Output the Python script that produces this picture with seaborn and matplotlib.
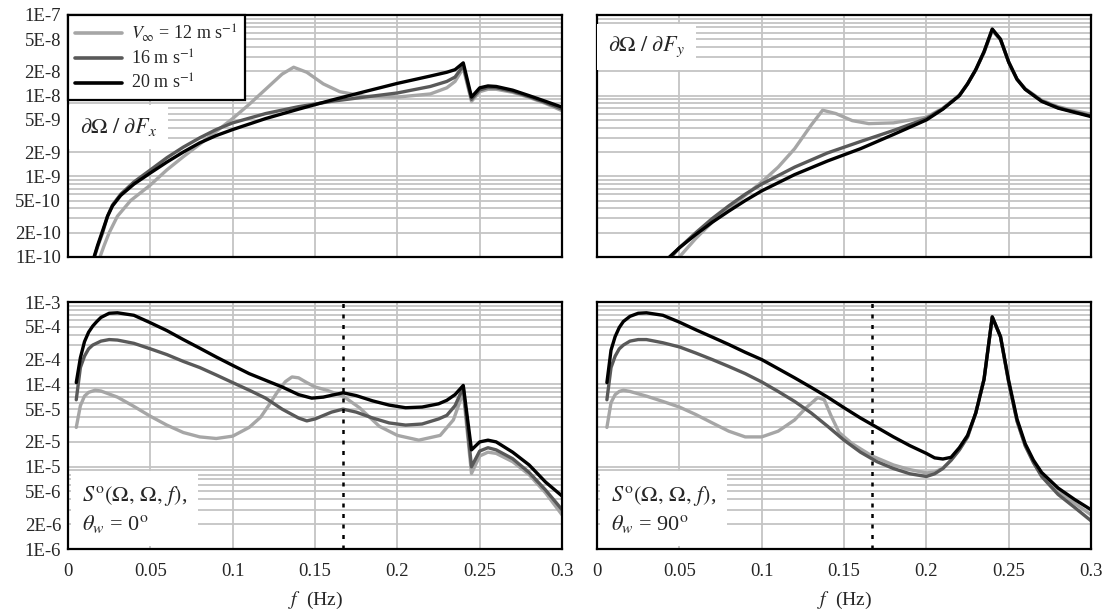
import numpy as np
import pandas as pd
import matplotlib
matplotlib.use('Agg')
import matplotlib.pyplot as plt
import matplotlib.ticker as mticker
import seaborn as sns

# ---- datos ----
speeds = ['12', '16', '20']
line_colors = {'12': '#a6a6a6', '16': '#595959', '20': '#000000'}
F_DASH = 0.167

# dOmega / dFx  (panel superior izquierdo)
fx_f_12 = [0.0194, 0.022, 0.025, 0.03, 0.038, 0.05, 0.06, 0.07, 0.08, 0.09, 0.1, 0.11, 0.12, 0.13, 0.137,
           0.145, 0.155, 0.165, 0.18, 0.2, 0.22, 0.23, 0.235, 0.24, 0.245, 0.25, 0.255, 0.26, 0.27, 0.28, 0.29, 0.3]
fx_v_12 = [1e-10, 1.4e-10, 2e-10, 3.2e-10, 5e-10, 7.8e-10, 1.2e-9, 1.75e-9, 2.5e-9, 3.6e-9, 5.2e-9, 7.8e-9,
           1.2e-8, 1.85e-8, 2.25e-8, 1.95e-8, 1.4e-8, 1.12e-8, 9.8e-9, 9.6e-9, 1.05e-8, 1.25e-8, 1.5e-8,
           2.2e-8, 8.5e-9, 1.12e-8, 1.2e-8, 1.2e-8, 1.1e-8, 9.5e-9, 8e-9, 6.5e-9]
fx_f_16 = [0.016, 0.018, 0.021, 0.024, 0.027, 0.032, 0.04, 0.05, 0.06, 0.07, 0.08, 0.09, 0.1, 0.12, 0.14, 0.16,
           0.18, 0.2, 0.22, 0.23, 0.235, 0.24, 0.245, 0.25, 0.255, 0.26, 0.27, 0.28, 0.29, 0.3]
fx_v_16 = [1e-10, 1.35e-10, 2e-10, 3.2e-10, 4.4e-10, 6e-10, 8.5e-10, 1.2e-9, 1.7e-9, 2.3e-9, 3.0e-9, 3.8e-9,
           4.6e-9, 6.0e-9, 7.3e-9, 8.5e-9, 9.6e-9, 1.08e-8, 1.3e-8, 1.5e-8, 1.7e-8, 2.35e-8, 9e-9, 1.18e-8,
           1.26e-8, 1.25e-8, 1.13e-8, 9.7e-9, 8.2e-9, 6.8e-9]
fx_f_20 = [0.0158, 0.018, 0.0206, 0.024, 0.027, 0.032, 0.04, 0.05, 0.06, 0.07, 0.08, 0.09, 0.1, 0.12, 0.14, 0.16,
           0.18, 0.2, 0.22, 0.23, 0.235, 0.24, 0.245, 0.25, 0.255, 0.26, 0.27, 0.28, 0.29, 0.3]
fx_v_20 = [1e-10, 1.4e-10, 2e-10, 3.2e-10, 4.3e-10, 5.8e-10, 8e-10, 1.1e-9, 1.5e-9, 2.0e-9, 2.6e-9, 3.2e-9,
           3.8e-9, 5.2e-9, 6.8e-9, 8.8e-9, 1.12e-8, 1.42e-8, 1.75e-8, 1.95e-8, 2.1e-8, 2.55e-8, 9.6e-9,
           1.25e-8, 1.32e-8, 1.3e-8, 1.17e-8, 1.0e-8, 8.5e-9, 7.2e-9]

# dOmega / dFy  (panel superior derecho)
fy_f_12 = [0.05, 0.06, 0.07, 0.08, 0.09, 0.1, 0.11, 0.12, 0.13, 0.137, 0.145, 0.155, 0.165, 0.18, 0.2, 0.21,
           0.22, 0.225, 0.23, 0.235, 0.24, 0.245, 0.25, 0.255, 0.26, 0.27, 0.28, 0.29, 0.3]
fy_v_12 = [1e-10, 1.7e-10, 2.7e-10, 4.0e-10, 5.8e-10, 8.5e-10, 1.3e-9, 2.2e-9, 4.3e-9, 6.6e-9, 6.0e-9, 4.9e-9,
           4.5e-9, 4.6e-9, 5.4e-9, 7e-9, 1.02e-8, 1.4e-8, 2.1e-8, 3.4e-8, 6.4e-8, 4.9e-8, 2.6e-8, 1.6e-8,
           1.22e-8, 8.8e-9, 7.3e-9, 6.5e-9, 5.9e-9]
fy_f_16 = [0.045, 0.05, 0.06, 0.07, 0.08, 0.09, 0.1, 0.12, 0.14, 0.16, 0.18, 0.2, 0.21, 0.22, 0.225, 0.23,
           0.235, 0.24, 0.245, 0.25, 0.255, 0.26, 0.27, 0.28, 0.29, 0.3]
fy_v_16 = [1e-10, 1.3e-10, 2.0e-10, 3.0e-10, 4.3e-10, 6e-10, 8e-10, 1.3e-9, 1.95e-9, 2.7e-9, 3.7e-9, 5.2e-9,
           6.9e-9, 1.0e-8, 1.4e-8, 2.1e-8, 3.5e-8, 6.6e-8, 5.0e-8, 2.6e-8, 1.6e-8, 1.2e-8, 8.6e-9, 7.1e-9,
           6.3e-9, 5.6e-9]
fy_f_20 = [0.044, 0.05, 0.06, 0.07, 0.08, 0.09, 0.1, 0.12, 0.14, 0.16, 0.18, 0.2, 0.21, 0.22, 0.225, 0.23,
           0.235, 0.24, 0.245, 0.25, 0.255, 0.26, 0.27, 0.28, 0.29, 0.3]
fy_v_20 = [1e-10, 1.3e-10, 1.9e-10, 2.7e-10, 3.7e-10, 5e-10, 6.6e-10, 1.05e-9, 1.55e-9, 2.2e-9, 3.3e-9, 5.0e-9,
           6.8e-9, 1.0e-8, 1.4e-8, 2.1e-8, 3.5e-8, 6.7e-8, 5.0e-8, 2.6e-8, 1.6e-8, 1.2e-8, 8.5e-9, 7e-9,
           6.2e-9, 5.5e-9]

# S(Omega, Omega, f), theta_w = 0  (panel inferior izquierdo)
s0_f_12 = [0.005, 0.0075, 0.01, 0.0125, 0.0165, 0.02, 0.03, 0.04, 0.05, 0.06, 0.07, 0.08, 0.09, 0.1, 0.11,
           0.117, 0.122, 0.127, 0.132, 0.136, 0.14, 0.145, 0.15, 0.157, 0.167, 0.177, 0.189, 0.2, 0.213, 0.226,
           0.234, 0.24, 0.245, 0.25, 0.255, 0.26, 0.27, 0.28, 0.29, 0.3]
s0_v_12 = [3.0e-5, 5.5e-5, 7.2e-5, 8.0e-5, 8.5e-5, 8.3e-5, 7.0e-5, 5.4e-5, 4.1e-5, 3.2e-5, 2.6e-5, 2.3e-5,
           2.2e-5, 2.35e-5, 3.0e-5, 4.0e-5, 5.6e-5, 8.0e-5, 1.08e-4, 1.23e-4, 1.2e-4, 1.05e-4, 9.3e-5, 8.5e-5,
           7.2e-5, 5.2e-5, 3.1e-5, 2.4e-5, 2.1e-5, 2.4e-5, 3.7e-5, 8.0e-5, 8.3e-6, 1.35e-5, 1.5e-5, 1.45e-5,
           1.15e-5, 8.0e-6, 4.8e-6, 2.6e-6]
s0_f_16 = [0.005, 0.0075, 0.01, 0.0125, 0.015, 0.02, 0.025, 0.03, 0.04, 0.05, 0.06, 0.07, 0.08, 0.09, 0.1,
           0.11, 0.12, 0.13, 0.14, 0.145, 0.15, 0.16, 0.167, 0.175, 0.185, 0.195, 0.205, 0.215, 0.225, 0.23,
           0.235, 0.24, 0.245, 0.25, 0.255, 0.26, 0.27, 0.28, 0.29, 0.3]
s0_v_16 = [6.5e-5, 1.6e-4, 2.2e-4, 2.7e-4, 3.0e-4, 3.35e-4, 3.5e-4, 3.45e-4, 3.15e-4, 2.7e-4, 2.3e-4, 1.9e-4,
           1.6e-4, 1.3e-4, 1.05e-4, 8.5e-5, 6.8e-5, 5.0e-5, 3.9e-5, 3.6e-5, 3.8e-5, 4.6e-5, 5.0e-5, 4.6e-5,
           3.9e-5, 3.4e-5, 3.2e-5, 3.3e-5, 3.8e-5, 4.2e-5, 5.5e-5, 9.2e-5, 1.0e-5, 1.55e-5, 1.7e-5, 1.6e-5,
           1.25e-5, 8.5e-6, 5.2e-6, 3.0e-6]
s0_f_20 = [0.005, 0.0075, 0.01, 0.0125, 0.015, 0.0175, 0.02, 0.025, 0.03, 0.04, 0.05, 0.06, 0.07, 0.08, 0.09,
           0.1, 0.11, 0.12, 0.13, 0.14, 0.148, 0.155, 0.167, 0.175, 0.185, 0.195, 0.205, 0.215, 0.225, 0.23,
           0.235, 0.24, 0.245, 0.25, 0.255, 0.26, 0.27, 0.28, 0.29, 0.3]
s0_v_20 = [1.05e-4, 2.1e-4, 3.3e-4, 4.3e-4, 5.1e-4, 5.8e-4, 6.5e-4, 7.3e-4, 7.4e-4, 6.9e-4, 5.6e-4, 4.5e-4,
           3.5e-4, 2.75e-4, 2.15e-4, 1.7e-4, 1.35e-4, 1.12e-4, 9.3e-5, 7.5e-5, 6.8e-5, 7.0e-5, 7.9e-5, 7.3e-5,
           6.3e-5, 5.6e-5, 5.2e-5, 5.3e-5, 5.8e-5, 6.4e-5, 7.5e-5, 9.7e-5, 1.6e-5, 2.0e-5, 2.1e-5, 2.0e-5,
           1.5e-5, 1.05e-5, 6.5e-6, 4.4e-6]

# S(Omega, Omega, f), theta_w = 90  (panel inferior derecho)
s90_f_12 = [0.006, 0.0085, 0.011, 0.0135, 0.016, 0.02, 0.03, 0.04, 0.05, 0.06, 0.07, 0.08, 0.09, 0.1, 0.11,
            0.12, 0.127, 0.134, 0.138, 0.142, 0.147, 0.155, 0.167, 0.18, 0.19, 0.2, 0.205, 0.21, 0.215, 0.22,
            0.225, 0.23, 0.235, 0.24, 0.245, 0.25, 0.255, 0.26, 0.265, 0.27, 0.28, 0.29, 0.3]
s90_v_12 = [3.0e-5, 6.0e-5, 7.5e-5, 8.2e-5, 8.5e-5, 8.2e-5, 7.2e-5, 6.2e-5, 5.3e-5, 4.3e-5, 3.4e-5, 2.7e-5,
            2.3e-5, 2.3e-5, 2.7e-5, 3.7e-5, 5.2e-5, 6.9e-5, 6.5e-5, 4.2e-5, 2.6e-5, 1.9e-5, 1.35e-5, 1.05e-5,
            9.2e-6, 8.4e-6, 8.6e-6, 9.6e-6, 1.2e-5, 1.6e-5, 2.3e-5, 4.5e-5, 1.15e-4, 6.5e-4, 3.8e-4, 1.05e-4,
            3.6e-5, 1.8e-5, 1.15e-5, 8e-6, 5e-6, 3.6e-6, 2.6e-6]
s90_f_16 = [0.006, 0.0085, 0.011, 0.0135, 0.016, 0.02, 0.025, 0.03, 0.04, 0.05, 0.06, 0.07, 0.08, 0.09, 0.1,
            0.11, 0.12, 0.13, 0.14, 0.15, 0.16, 0.17, 0.18, 0.19, 0.2, 0.205, 0.21, 0.215, 0.22, 0.225, 0.23,
            0.235, 0.24, 0.245, 0.25, 0.255, 0.26, 0.265, 0.27, 0.28, 0.29, 0.3]
s90_v_16 = [6.5e-5, 1.6e-4, 2.2e-4, 2.7e-4, 3.0e-4, 3.35e-4, 3.5e-4, 3.5e-4, 3.2e-4, 2.85e-4, 2.4e-4, 2.0e-4,
            1.65e-4, 1.35e-4, 1.07e-4, 8.2e-5, 6.2e-5, 4.5e-5, 3.1e-5, 2.1e-5, 1.5e-5, 1.15e-5, 9.5e-6, 8.2e-6,
            7.6e-6, 8.2e-6, 9.5e-6, 1.2e-5, 1.6e-5, 2.3e-5, 4.5e-5, 1.15e-4, 6.6e-4, 3.8e-4, 1.05e-4, 3.6e-5,
            1.8e-5, 1.12e-5, 7.6e-6, 4.6e-6, 3.2e-6, 2.2e-6]
s90_f_20 = [0.006, 0.0085, 0.011, 0.0135, 0.016, 0.02, 0.025, 0.03, 0.04, 0.05, 0.06, 0.07, 0.08, 0.09, 0.1,
            0.11, 0.12, 0.13, 0.14, 0.15, 0.16, 0.17, 0.18, 0.19, 0.2, 0.205, 0.21, 0.215, 0.22, 0.225, 0.23,
            0.235, 0.24, 0.245, 0.25, 0.255, 0.26, 0.265, 0.27, 0.28, 0.29, 0.3]
s90_v_20 = [1.05e-4, 2.6e-4, 3.8e-4, 4.9e-4, 5.8e-4, 6.7e-4, 7.3e-4, 7.4e-4, 6.9e-4, 5.7e-4, 4.6e-4, 3.75e-4,
            3.05e-4, 2.45e-4, 2.0e-4, 1.55e-4, 1.2e-4, 9.2e-5, 7.0e-5, 5.2e-5, 3.9e-5, 3.0e-5, 2.3e-5, 1.8e-5,
            1.45e-5, 1.28e-5, 1.24e-5, 1.3e-5, 1.7e-5, 2.4e-5, 4.5e-5, 1.15e-4, 6.6e-4, 3.8e-4, 1.1e-4, 3.8e-5,
            1.9e-5, 1.2e-5, 8.5e-6, 5.5e-6, 4.0e-6, 3.0e-6]

x_ticks = [0, 0.05, 0.1, 0.15, 0.2, 0.25, 0.3]
x_tick_labels = ['0', '0.05', '0.1', '0.15', '0.2', '0.25', '0.3']
y_ticks_top = [1e-10, 2e-10, 5e-10, 1e-9, 2e-9, 5e-9, 1e-8, 2e-8, 5e-8, 1e-7]
y_labels_top = ['1E-10', '2E-10', '5E-10', '1E-9', '2E-9', '5E-9', '1E-8', '2E-8', '5E-8', '1E-7']
y_ticks_bot = [1e-6, 2e-6, 5e-6, 1e-5, 2e-5, 5e-5, 1e-4, 2e-4, 5e-4, 1e-3]
y_labels_bot = ['1E-6', '2E-6', '5E-6', '1E-5', '2E-5', '5E-5', '1E-4', '2E-4', '5E-4', '1E-3']


def make_df(series):
    rows = []
    for sp, (f, v) in series.items():
        rows.append(pd.DataFrame({'f': f, 'val': v, 'speed': sp}))
    return pd.concat(rows, ignore_index=True)


panels = [
    (make_df({'12': (fx_f_12, fx_v_12), '16': (fx_f_16, fx_v_16), '20': (fx_f_20, fx_v_20)}),
     (1e-10, 1e-7), y_ticks_top, y_labels_top),
    (make_df({'12': (fy_f_12, fy_v_12), '16': (fy_f_16, fy_v_16), '20': (fy_f_20, fy_v_20)}),
     (1e-10, 1e-7), y_ticks_top, y_labels_top),
    (make_df({'12': (s0_f_12, s0_v_12), '16': (s0_f_16, s0_v_16), '20': (s0_f_20, s0_v_20)}),
     (1e-6, 1e-3), y_ticks_bot, y_labels_bot),
    (make_df({'12': (s90_f_12, s90_v_12), '16': (s90_f_16, s90_v_16), '20': (s90_f_20, s90_v_20)}),
     (1e-6, 1e-3), y_ticks_bot, y_labels_bot),
]

# ---- estilo ----
sns.set_style('white')
plt.rcParams['font.family'] = ['Liberation Serif', 'DejaVu Serif']
plt.rcParams['mathtext.fontset'] = 'stix'

fig, axes = plt.subplots(2, 2, figsize=(11.06, 6.12), dpi=100)
axes = axes.ravel()

pos = [
    [0.0615, 0.5801, 0.4467, 0.3954],
    [0.5398, 0.5801, 0.4467, 0.3954],
    [0.0615, 0.1029, 0.4467, 0.4036],
    [0.5398, 0.1029, 0.4467, 0.4036],
]

for i, ax in enumerate(axes):
    df, ylim, yt, yl = panels[i]
    ax.set_position(pos[i])
    sns.lineplot(data=df, x='f', y='val', hue='speed', palette=line_colors,
                 hue_order=speeds, lw=2.4, ax=ax, legend=False, sort=False)
    ax.set_yscale('log')
    ax.set_xlim(0, 0.3)
    ax.set_ylim(*ylim)
    ax.set_axisbelow(True)
    # rejilla menor: 1..9 de cada decada
    lo, hi = int(round(np.log10(ylim[0]))), int(round(np.log10(ylim[1])))
    minors = [m * 10.0 ** e for e in range(lo, hi) for m in range(1, 10)]
    ax.yaxis.set_minor_locator(mticker.FixedLocator(minors))
    ax.yaxis.set_minor_formatter(mticker.NullFormatter())
    ax.set_yticks(yt)
    ax.set_yticklabels(yl if i in (0, 2) else [''] * len(yt))
    ax.set_xticks(x_ticks)
    ax.set_xticklabels(x_tick_labels if i in (2, 3) else [''] * len(x_ticks))
    ax.grid(True, axis='x', which='major', color='#c4c4c4', lw=1.3)
    ax.grid(True, axis='y', which='both', color='#c4c4c4', lw=1.3)
    ax.tick_params(axis='both', which='both', length=0, labelsize=13.5)
    ax.tick_params(axis='y', pad=5)
    ax.tick_params(axis='x', pad=10)
    for s in ax.spines.values():
        s.set_visible(True)
        s.set_color('black')
        s.set_linewidth(1.6)
    ax.set_ylabel('')
    if i in (0, 1):
        ax.set_xlabel('')
    else:
        ax.set_xlabel('$f$  (Hz)', fontsize=14, labelpad=7)
        ax.axvline(F_DASH, color='black', lw=1.8, ls=(0, (1.6, 2.6)), zorder=3)

box = dict(facecolor='white', edgecolor='none', boxstyle='square,pad=0.5')
axes[0].text(0.024, 0.537, r'$\partial\Omega\ /\ \partial F_x$', transform=axes[0].transAxes,
             fontsize=16, ha='left', va='center', bbox=box, zorder=4)
axes[1].text(0.022, 0.868, r'$\partial\Omega\ /\ \partial F_y$', transform=axes[1].transAxes,
             fontsize=16, ha='left', va='center', bbox=box, zorder=4)
axes[2].text(0.028, 0.16, '$S^{\\rm o}(\\Omega,\\,\\Omega,\\,f)$,\n$\\theta_w$ = 0$^{\\rm o}$',
             transform=axes[2].transAxes, fontsize=16, ha='left', va='center', linespacing=1.3,
             bbox=box, zorder=4)
axes[3].text(0.028, 0.16, '$S^{\\rm o}(\\Omega,\\,\\Omega,\\,f)$,\n$\\theta_w$ = 90$^{\\rm o}$',
             transform=axes[3].transAxes, fontsize=16, ha='left', va='center', linespacing=1.3,
             bbox=box, zorder=4)

# leyenda
handles = [plt.Line2D([], [], color=line_colors[s], lw=2.6) for s in speeds]
labels = [r'$V_\infty$ = 12 m s$^{-1}$', r'16 m s$^{-1}$', r'20 m s$^{-1}$']
leg = axes[0].legend(handles, labels, loc='upper left', bbox_to_anchor=(0.0, 1.0), borderaxespad=0.0,
                     fontsize=13, frameon=True, fancybox=False, framealpha=1, edgecolor='black',
                     handlelength=2.6, handletextpad=0.5, labelspacing=0.3, borderpad=0.4)
leg.get_frame().set_linewidth(1.6)
leg.set_zorder(5)

plt.savefig('out.png', dpi=100)
